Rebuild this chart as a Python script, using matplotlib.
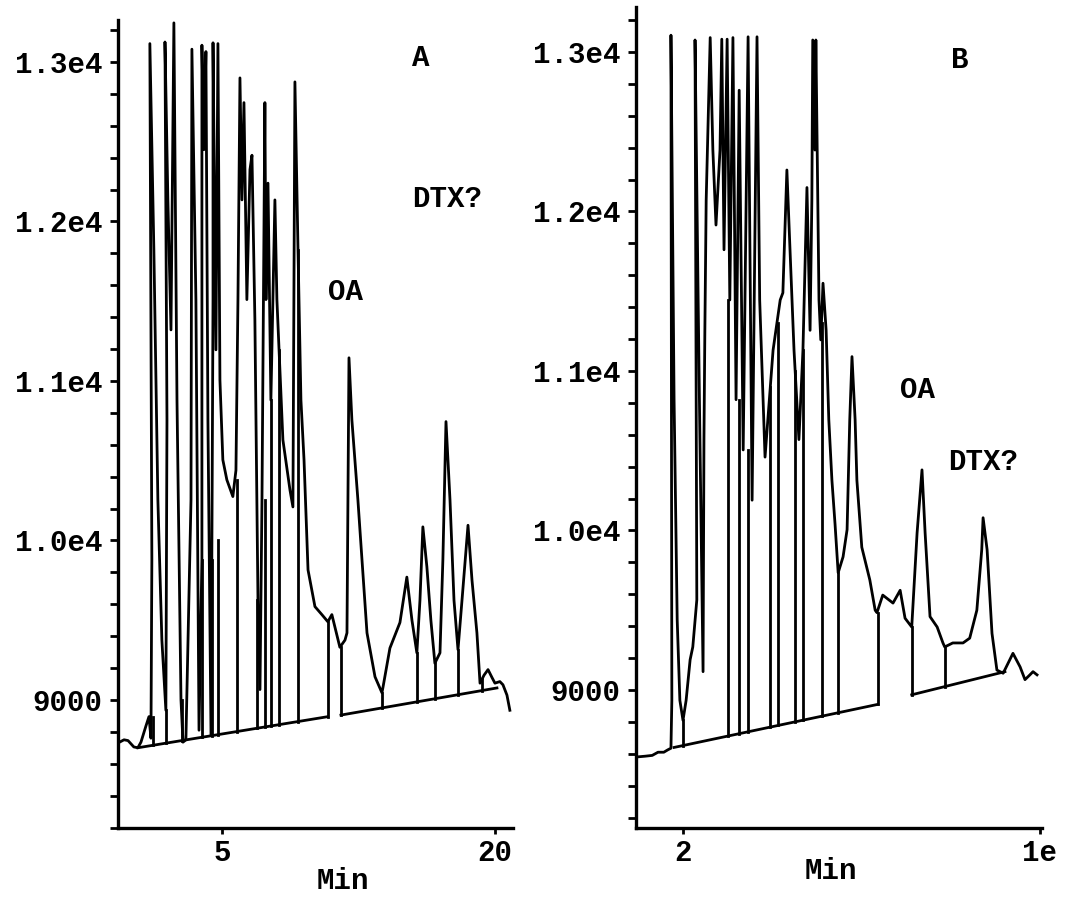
import numpy as np
import matplotlib.pyplot as plt
from matplotlib.ticker import MultipleLocator, FuncFormatter

plt.rcParams['font.family'] = ['Liberation Mono', 'DejaVu Sans Mono']
plt.rcParams['font.weight'] = 'bold'

# ---- panel A: chromatogram trace (time, counts)
a_time = [-0.71, -0.38, -0.16, 0.16, 0.38, 0.55, 0.82, 0.99, 1.10, 1.15, 1.04, 1.26, 1.48, 1.70, 1.92,
          1.98, 1.87, 2.03, 2.20, 2.36, 2.53, 2.75, 2.86, 3.02, 3.30, 3.35, 3.57, 3.74, 3.90, 3.90,
          4.01, 4.12, 4.23, 4.40, 4.51, 4.51, 4.67, 4.78, 4.89, 5.05, 5.27, 5.60, 5.77, 5.88, 5.99,
          6.10, 6.21, 6.37, 6.54, 6.65, 6.81, 6.98, 7.09, 7.20, 7.36, 7.42, 7.53, 7.69, 7.80, 7.91,
          8.02, 8.35, 8.74, 8.90, 9.01, 9.18, 9.34, 9.51, 9.73, 10.11, 10.49, 10.82, 11.04, 11.48,
          11.76, 11.87, 11.98, 12.14, 12.47, 12.64, 12.97, 13.41, 13.79, 13.85, 14.23, 14.78, 15.16,
          15.44, 15.71, 15.88, 16.04, 16.26, 16.48, 16.70, 16.98, 17.14, 17.31, 17.53, 17.75, 17.97,
          18.19, 18.52, 18.74, 19.01, 19.18, 19.40, 19.62, 19.84, 20.00, 20.27, 20.44, 20.66, 20.82]
a_signal = [8730, 8750, 8745, 8705, 8700, 8735, 8835, 8895, 8760, 9880, 13115, 11820, 10255, 9375, 8935,
            10755, 13125, 12135, 11320, 13245, 10880, 9000, 8735, 8750, 10255, 13080, 11510, 8810, 9880, 13105,
            12450, 13065, 10755, 8780, 11510, 13120, 11195, 13115, 11005, 10505, 10380, 10275, 10440, 11510, 12900,
            12135, 12745, 11510, 12325, 12415, 11385, 9625, 9065, 10255, 12745, 11510, 12240, 10880, 11510, 12135,
            11510, 10630, 10315, 10210, 12875, 11820, 10880, 10505, 9815, 9585, 9535, 9490, 9535, 9330,
            9375, 9420, 11145, 10755, 10255, 9970, 9420, 9145, 9045, 9080, 9325, 9485, 9770,
            9500, 9295, 9625, 10085, 9835, 9500, 9230, 9295, 9880, 10745, 10255, 9625, 9315,
            9625, 10095, 9750, 9420, 9105, 9155, 9190, 9140, 9105, 9115, 9095, 9030, 8935]
a_base_time = [[0.38, 10.82], [11.54, 20.11]]
a_base_signal = [[8700, 8895], [8905, 9075]]
a_drop_time = [1.21, 1.92, 2.80, 3.90, 4.45, 4.78, 5.82, 6.92, 7.36, 7.69, 8.13, 9.18, 10.82, 11.54,
               13.79, 15.71, 16.70, 17.97, 19.29]
a_drop_top = [8895, 8935, 9000, 9880, 9880, 10000, 10380, 9625, 10255, 10880, 11195, 11820, 9490, 9330,
              9045, 9295, 9230, 9315, 9130]

# ---- panel B
b_time = [0.95, 1.15, 1.31, 1.44, 1.57, 1.66, 1.73, 1.75, 1.73, 1.80, 1.87, 1.93, 2.00, 2.07, 2.16,
          2.22, 2.31, 2.27, 2.34, 2.38, 2.45, 2.47, 2.49, 2.52, 2.61, 2.67, 2.74, 2.83, 2.87, 2.92,
          2.99, 3.05, 3.12, 3.19, 3.26, 3.35, 3.46, 3.55, 3.66, 3.72, 3.84, 4.02, 4.18, 4.24, 4.33,
          4.40, 4.49, 4.60, 4.69, 4.78, 4.85, 4.89, 4.91, 4.96, 4.98, 5.05, 5.09, 5.14, 5.21, 5.27,
          5.34, 5.41, 5.48, 5.59, 5.68, 5.74, 5.79, 5.86, 5.90, 6.01, 6.19, 6.31, 6.35, 6.48, 6.71,
          6.87, 6.98, 7.13, 7.25, 7.36, 7.43, 7.54, 7.70, 7.83, 7.87, 8.05, 8.28, 8.43, 8.59, 8.70,
          8.73, 8.82, 8.93, 9.04, 9.18, 9.40, 9.56, 9.67, 9.78, 9.85, 9.94]
b_signal = [8580, 8585, 8590, 8610, 8610, 8625, 8635, 8935, 13105, 10820, 9440, 8935, 8810, 8935, 9190,
            9270, 9565, 13075, 11445, 10570, 9115, 10570, 11240, 12070, 13090, 12385, 11915, 12385, 13080, 11760,
            13080, 11445, 13090, 10820, 12760, 10505, 13095, 10190, 13095, 11445, 10460, 11130, 11445, 11490, 12260,
            11760, 11130, 10570, 11130, 12150, 11255, 12070, 13075, 12385, 13075, 11445, 11195, 11550, 11255, 10695,
            10315, 10040, 9735, 9835, 10005, 10695, 11090, 10695, 10315, 9895, 9690, 9500, 9485, 9595, 9545,
            9625, 9450, 9395, 9985, 10380, 9985, 9460, 9395, 9295, 9270, 9295, 9295, 9325, 9500, 9880,
            10080, 9880, 9355, 9125, 9105, 9230, 9145, 9065, 9095, 9115, 9095]
b_base_time = [[1.80, 6.37], [7.13, 9.22]]
b_base_signal = [[8640, 8910], [8970, 9115]]
b_drop_time = [1.75, 2.00, 3.01, 3.26, 3.46, 3.95, 4.13, 4.51, 4.69, 5.12, 5.48, 6.37, 7.13, 7.87]
b_drop_top = [8935, 8810, 11445, 10820, 10505, 10900, 11300, 11000, 11130, 11300, 9735, 9485, 9395, 9270]

a_labels = [('A', 15.93, 13025), ('DTX?', 17.36, 12141), ('OA', 11.81, 11558)]
b_labels = [('B', 8.21, 12950), ('OA', 7.27, 10881), ('DTX?', 8.73, 10430)]


def ylab(v, pos):
    if v < 10000:
        return '%d' % v
    return '%.1fe4' % (v / 1e4)


def draw(ax, t, s, bt, bs, dt, dtop, labels):
    ax.plot(t, s, color='black', lw=2.0)
    for x, y in zip(bt, bs):
        ax.plot(x, y, color='black', lw=2.0)
    for x, top in zip(dt, dtop):
        for x0, y0 in zip(bt, bs):
            if x0[0] - 0.01 <= x <= x0[1] + 0.01:
                ax.plot([x, x], [np.interp(x, x0, y0), top], color='black', lw=2.0)
                break
    for txt, x, y in labels:
        ax.text(x, y, txt, ha='center', va='center', fontsize=21, fontweight='bold')
    ax.spines['top'].set_visible(False)
    ax.spines['right'].set_visible(False)
    for side in ['left', 'bottom']:
        ax.spines[side].set_linewidth(2.4)
    ax.yaxis.set_major_locator(MultipleLocator(1000))
    ax.yaxis.set_minor_locator(MultipleLocator(200))
    ax.yaxis.set_major_formatter(FuncFormatter(ylab))
    ax.tick_params(axis='y', which='both', length=6, width=2, pad=5, labelsize=21)
    ax.tick_params(axis='x', length=4, width=2, pad=4, labelsize=21)
    ax.set_xlabel('Min', fontsize=21, fontweight='bold')


fig = plt.figure(figsize=(10.68, 9.05), dpi=100)
axA = fig.add_axes([0.1105, 0.0851, 0.3698, 0.8928])
axB = fig.add_axes([0.5955, 0.0851, 0.3801, 0.9072])

draw(axA, a_time, a_signal, a_base_time, a_base_signal, a_drop_time, a_drop_top, a_labels)
axA.set_xlim(-0.71, 20.99)
axA.set_ylim(8197, 13263)
axA.set_xticks([5, 20])
axA.set_xticklabels(['5', '20'])
axA.xaxis.set_label_coords(0.57, -0.048)

draw(axB, b_time, b_signal, b_base_time, b_base_signal, b_drop_time, b_drop_top, b_labels)
axB.set_xlim(0.946, 10.05)
axB.set_ylim(8135, 13282)
axB.set_xticks([2, 10])
axB.set_xticklabels(['2', '1e'])
axB.xaxis.set_label_coords(0.48, -0.035)

fig.savefig('out.png', dpi=100)
